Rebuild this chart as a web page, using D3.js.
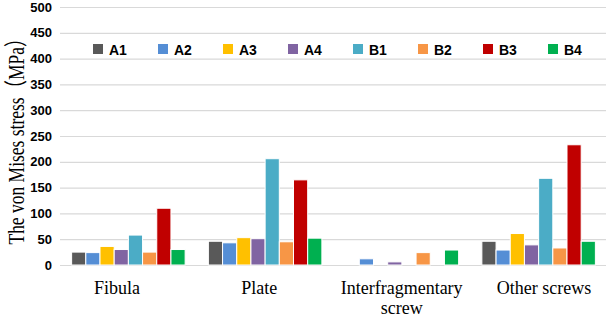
<!DOCTYPE html>
<html>
<head>
<meta charset="utf-8">
<script src="https://cdn.jsdelivr.net/npm/d3@7"></script>
<style>
  body { margin: 0; background: #fff; }
</style>
</head>
<body>
<div id="container"></div>
<script>
/* DATA */
const categories = ["Fibula", "Plate", "Interfragmentary screw", "Other screws"];
const series = ["A1", "A2", "A3", "A4", "B1", "B2", "B3", "B4"];
const colors = ["#595959", "#558ed5", "#ffc000", "#8064a2", "#4bacc6", "#f79646", "#c00000", "#00b050"];
// values per category, in series order
const fibula = [25, 24, 36, 30, 58, 25, 110, 30];
const plate = [46, 43, 53, 51, 206, 45, 165, 52];
const interfrag = [0, 12, 0, 6, 0, 24, 0, 29];
const otherScrews = [46, 29, 61, 39, 168, 33, 233, 46];
const yTicks = [0, 50, 100, 150, 200, 250, 300, 350, 400, 450, 500];

const values = [fibula, plate, interfrag, otherScrews];

/* CONSTANTS */
const width = 607;
const height = 318;
const margin = { top: 7, right: 0, bottom: 53, left: 60 };

const svg = d3.select("#container")
  .append("svg")
  .attr("width", width)
  .attr("height", height);

/* SCALES */
const xScale = d3.scaleBand()
  .domain(categories)
  .range([margin.left, width - margin.right])
  .paddingInner(0.17)
  .paddingOuter(0.085);

const inner = d3.scaleBand()
  .domain(series)
  .range([0, xScale.bandwidth()]);

// category labels sit a little off the bar groups in the original
const labelScale = d3.scalePoint()
  .domain(categories)
  .range([117, 544]);

const yScale = d3.scaleLinear()
  .domain([0, 500])
  .range([height - margin.bottom, margin.top]);

// gridlines
svg.selectAll(".grid")
  .data(yTicks)
  .join("line")
  .attr("class", "grid")
  .attr("x1", margin.left)
  .attr("x2", width - 1)
  .attr("y1", d => yScale(d) + 0.5)
  .attr("y2", d => yScale(d) + 0.5)
  .attr("stroke", "#d9d9d9")
  .attr("stroke-width", 1.2);

// y tick labels
svg.selectAll(".ytick")
  .data(yTicks)
  .join("text")
  .attr("class", "ytick")
  .attr("x", 52)
  .attr("y", d => yScale(d))
  .attr("dy", "0.36em")
  .attr("text-anchor", "end")
  .style("font-family", "'Liberation Sans', Arial, sans-serif")
  .style("font-weight", "bold")
  .style("font-size", "13px")
  .style("fill", "#000")
  .text(d => d);

// bars
const groups = svg.selectAll(".group")
  .data(categories)
  .join("g")
  .attr("class", "group")
  .attr("transform", d => `translate(${xScale(d)},0)`);

groups.selectAll("rect")
  .data((d, i) => values[i].map((v, j) => ({ key: series[j], value: v, color: colors[j] })))
  .join("rect")
  .attr("x", d => inner(d.key))
  .attr("width", inner.bandwidth())
  .attr("y", d => yScale(d.value))
  .attr("height", d => yScale(0) - yScale(d.value))
  .attr("fill", d => d.color)
  .attr("stroke", "#fff")
  .attr("stroke-width", 1);

// x labels
const xLabels = svg.selectAll(".xlabel")
  .data(categories)
  .join("text")
  .attr("class", "xlabel")
  .attr("x", d => labelScale(d))
  .attr("y", 294)
  .attr("text-anchor", "middle")
  .style("font-family", "'Liberation Serif', 'Times New Roman', serif")
  .style("font-size", "18px")
  .style("fill", "#000");

xLabels.each(function (d) {
  const words = d === "Interfragmentary screw" ? ["Interfragmentary", "screw"] : [d];
  d3.select(this).selectAll("tspan")
    .data(words)
    .join("tspan")
    .attr("x", labelScale(d))
    .attr("dy", (w, i) => i === 0 ? 0 : 20)
    .text(w => w);
});

// y axis title (stretched a bit across, like the original)
svg.append("text")
  .attr("transform", `translate(24,137) rotate(-90) scale(1,1.35)`)
  .attr("text-anchor", "middle")
  .style("font-family", "'Liberation Serif', 'Noto Sans CJK SC', serif")
  .style("font-size", "17.5px")
  .style("fill", "#000")
  .text("The von Mises stress（MPa）");

// legend
const legend = svg.selectAll(".legend")
  .data(series)
  .join("g")
  .attr("class", "legend")
  .attr("transform", (d, i) => `translate(${93 + i * 65},44)`);

legend.append("rect")
  .attr("width", 10)
  .attr("height", 10)
  .attr("fill", (d, i) => colors[i]);

legend.append("text")
  .attr("x", 16)
  .attr("y", 5.5)
  .attr("dy", "0.36em")
  .style("font-family", "'Liberation Sans', Arial, sans-serif")
  .style("font-weight", "bold")
  .style("font-size", "14px")
  .style("fill", "#000")
  .text(d => d);
</script>
</body>
</html>
